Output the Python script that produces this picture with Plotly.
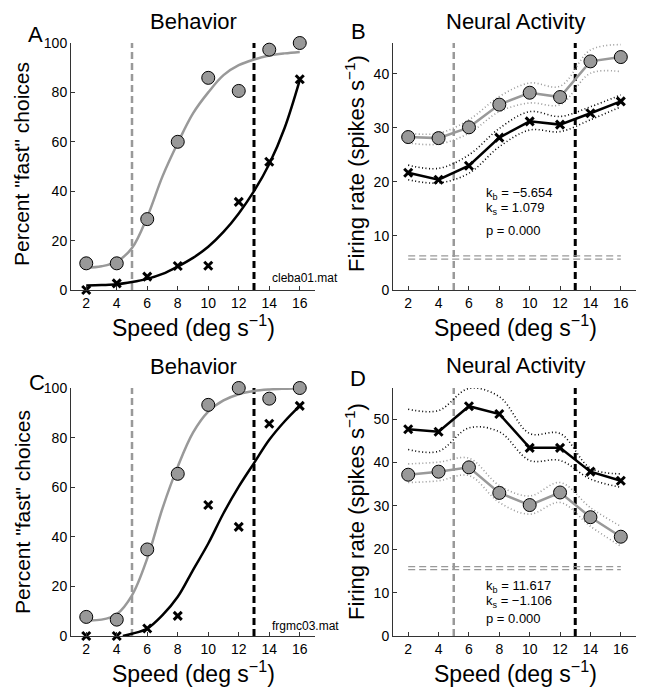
import plotly.graph_objects as go

# ---------------- data ----------------
speeds = [2, 4, 6, 8, 10, 12, 14, 16]
fit_speeds = [2, 3, 4, 5, 6, 7, 8, 9, 10, 11, 12, 13, 14, 15, 16]

# Panel A (cleba01)
A_circ = [10.8, 10.8, 28.7, 60.0, 85.9, 80.6, 97.3, 100]
A_cross = [0, 2.7, 5.4, 9.7, 9.8, 35.7, 51.9, 85.3]
A_fit_gray = [9.0, 9.6, 11.5, 17.0, 29.6, 46.0, 59.5, 71.5, 80.0, 87.0, 91.0, 93.3, 94.9, 95.8, 96.4]
A_fit_black = [1.8, 2.0, 2.3, 3.2, 4.5, 6.5, 9.5, 13.0, 17.5, 23.5, 31.0, 40.0, 51.0, 65.5, 85.0]

# Panel C (frgmc03)
C_circ = [7.7, 6.6, 34.9, 65.4, 93.2, 100, 95.7, 100]
C_cross = [0, 0, 3.0, 8.1, 52.8, 44.0, 85.6, 92.8]
C_fit_gray = [6.3, 6.6, 8.8, 16.4, 31.3, 51.5, 68.3, 82.0, 90.5, 95.0, 97.5, 98.8, 99.4, 99.7, 99.9]
C_fit_black_x = [4.4, 5, 6, 7, 8, 9, 10, 11, 12, 13, 14, 15, 16]
C_fit_black = [0, 0.9, 3.0, 8.4, 15.8, 26.6, 37.3, 49.5, 60.2, 69.7, 79.1, 86.5, 92.8]

# Panel B
B_circ = [28.3, 28.1, 30.1, 34.3, 36.5, 35.7, 42.3, 43.1]
B_circ_hi = [29.0, 29.0, 31.5, 35.8, 38.3, 37.7, 44.4, 45.4]
B_circ_lo = [27.2, 27.0, 29.0, 33.0, 34.6, 34.3, 40.1, 40.4]
B_cross = [21.7, 20.4, 23.0, 28.2, 31.2, 30.6, 32.7, 34.9]
B_cross_hi = [23.1, 22.5, 25.0, 29.9, 33.0, 32.1, 33.9, 36.1]
B_cross_lo = [20.4, 19.8, 21.6, 26.5, 29.6, 29.3, 31.5, 33.9]
B_base = [5.7, 6.3]

# Panel D
D_circ = [37.2, 37.9, 38.9, 33.0, 30.2, 33.1, 27.4, 22.9]
D_circ_hi = [39.7, 40.1, 41.0, 34.7, 32.3, 35.4, 29.6, 25.3]
D_circ_lo = [35.4, 35.8, 37.0, 30.8, 28.1, 30.8, 25.3, 20.7]
D_cross = [47.7, 47.1, 53.0, 51.2, 43.4, 43.4, 37.9, 35.8]
D_cross_hi = [52.3, 52.0, 57.1, 55.2, 46.7, 46.7, 38.7, 37.4]
D_cross_lo = [43.0, 42.6, 48.0, 47.1, 40.5, 40.5, 36.2, 34.3]
D_base = [15.3, 16.0]

bounds_gray = 5
bounds_black = 13

x_ticks = [2, 4, 6, 8, 10, 12, 14, 16]
A_yticks = [0, 20, 40, 60, 80, 100]
B_yticks = [0, 10, 20, 30, 40]
D_yticks = [0, 10, 20, 30, 40, 50]

stats_B = ["k<sub>b</sub> = \u22125.654", "k<sub>s</sub> = 1.079", "p = 0.000"]
stats_D = ["k<sub>b</sub> = 11.617", "k<sub>s</sub> = \u22121.106", "p = 0.000"]

# ---------------- style ----------------
W, H = 647, 698
GRAY = "#999999"
FONT = "Liberation Sans, Arial, Helvetica, sans-serif"
AXC = "#333333"

def px(x):
    return x / W

def py(y):
    return 1 - y / H

fig = go.Figure()

def add(trace, ax):
    xa = "x" if ax == 1 else f"x{ax}"
    ya = "y" if ax == 1 else f"y{ax}"
    trace.update(xaxis=xa, yaxis=ya, showlegend=False, hoverinfo="skip")
    fig.add_trace(trace)

def vlines(ax, ytop):
    add(go.Scatter(x=[bounds_gray, bounds_gray], y=[0, ytop], mode="lines",
                   line=dict(color=GRAY, width=2.5, dash="7px,4px")), ax)
    add(go.Scatter(x=[bounds_black, bounds_black], y=[0, ytop], mode="lines",
                   line=dict(color="black", width=3, dash="7px,4px")), ax)

def behavior(ax, circ, cross, fg, fbx, fb):
    vlines(ax, 100)
    add(go.Scatter(x=fit_speeds, y=fg, mode="lines", line=dict(color=GRAY, width=2.5, shape="spline")), ax)
    add(go.Scatter(x=fbx, y=fb, mode="lines", line=dict(color="black", width=2.5, shape="spline")), ax)
    add(go.Scatter(x=speeds, y=circ, mode="markers", cliponaxis=False,
                   marker=dict(symbol="circle", size=13, color=GRAY, line=dict(color="black", width=1))), ax)
    add(go.Scatter(x=speeds, y=cross, mode="markers", cliponaxis=False,
                   marker=dict(symbol="x-thin", size=8, line=dict(color="black", width=3))), ax)

def neural(ax, ytop, circ, chi, clo, cross, xhi, xlo, base):
    vlines(ax, ytop)
    for b in base:
        add(go.Scatter(x=[speeds[0], speeds[-1]], y=[b, b], mode="lines",
                       line=dict(color=GRAY, width=1.2, dash="7px,4px")), ax)
    for band in (chi, clo):
        add(go.Scatter(x=speeds, y=band, mode="lines",
                       line=dict(color=GRAY, width=1.6, dash="1px,2.5px", shape="spline")), ax)
    for band in (xhi, xlo):
        add(go.Scatter(x=speeds, y=band, mode="lines",
                       line=dict(color="black", width=1.6, dash="1px,2.5px", shape="spline")), ax)
    add(go.Scatter(x=speeds, y=circ, mode="lines+markers", cliponaxis=False,
                   line=dict(color=GRAY, width=2.5),
                   marker=dict(symbol="circle", size=13, color=GRAY, line=dict(color="black", width=1))), ax)
    add(go.Scatter(x=speeds, y=cross, mode="lines+markers", cliponaxis=False,
                   line=dict(color="black", width=2.5),
                   marker=dict(symbol="x-thin", size=8, line=dict(color="black", width=3))), ax)

B_top = 45.7
D_top = 57.2

behavior(1, A_circ, A_cross, A_fit_gray, fit_speeds, A_fit_black)
neural(2, B_top, B_circ, B_circ_hi, B_circ_lo, B_cross, B_cross_hi, B_cross_lo, B_base)
behavior(3, C_circ, C_cross, C_fit_gray, C_fit_black_x, C_fit_black)
neural(4, D_top, D_circ, D_circ_hi, D_circ_lo, D_cross, D_cross_hi, D_cross_lo, D_base)

xdom_L = [px(71), px(315)]
xdom_R = [px(393), px(636)]
ydom_T = [py(290), py(43)]
ydom_B = [py(636), py(388)]

def xax(dom, anchor):
    return dict(domain=dom, anchor=anchor, range=[1, 17], tickvals=x_ticks, ticks="inside",
                ticklen=4, tickcolor=AXC, showline=True, linecolor=AXC, linewidth=1,
                automargin=False,
                showgrid=False, zeroline=False, tickfont=dict(size=14, color="black", family=FONT))

def yax(dom, anchor, rng, tv):
    return dict(domain=dom, anchor=anchor, range=rng, tickvals=tv, ticks="inside",
                ticklen=4, tickcolor=AXC, showline=True, linecolor=AXC, linewidth=1,
                automargin=False,
                showgrid=False, zeroline=False, tickfont=dict(size=14, color="black", family=FONT))

fig.update_layout(
    template="none",
    width=W, height=H, autosize=False,
    margin=dict(l=0, r=0, t=0, b=0, pad=0, autoexpand=False),
    paper_bgcolor="white", plot_bgcolor="white",
    font=dict(family=FONT, color="black"),
    xaxis=xax(xdom_L, "y"), yaxis=yax(ydom_T, "x", [0, 100], A_yticks),
    xaxis2=xax(xdom_R, "y2"), yaxis2=yax(ydom_T, "x2", [0, B_top], B_yticks),
    xaxis3=xax(xdom_L, "y3"), yaxis3=yax(ydom_B, "x3", [0, 100], A_yticks),
    xaxis4=xax(xdom_R, "y4"), yaxis4=yax(ydom_B, "x4", [0, D_top], D_yticks),
)

ann = []
def txt(x, y, s, size, xanchor="center", yanchor="middle", angle=0):
    ann.append(dict(x=px(x), y=py(y), xref="paper", yref="paper", text=s, showarrow=False,
                    xanchor=xanchor, yanchor=yanchor, textangle=angle,
                    font=dict(size=size, family=FONT, color="black")))

# titles
txt(193, 21, "Behavior", 22)
txt(515, 21, "Neural Activity", 22)
txt(193, 367, "Behavior", 22)
txt(515, 366, "Neural Activity", 22)
# panel letters
txt(35, 34, "A", 22)
txt(358, 31, "B", 22)
txt(37, 382, "C", 22)
txt(358, 378, "D", 22)
# axis titles
xlab = "Speed (deg s<sup>\u22121</sup>)"
txt(193, 326, xlab, 23)
txt(515, 326, xlab, 23)
txt(193, 672, xlab, 23)
txt(515, 672, xlab, 23)
txt(22, 164, 'Percent "fast" choices', 21, angle=-90)
txt(22, 512, 'Percent "fast" choices', 21, angle=-90)
txt(355, 164, "Firing rate (spikes s<sup>\u22121</sup>)", 22, angle=-90)
txt(355, 512, "Firing rate (spikes s<sup>\u22121</sup>)", 22, angle=-90)
# file names
txt(270, 278, "cleba01.mat", 12, xanchor="left")
txt(270, 626, "frgmc03.mat", 12, xanchor="left")
# stats
for s, yy in zip(stats_B, [193, 208, 230]):
    txt(484, yy, s, 13, xanchor="left")
for s, yy in zip(stats_D, [586, 601, 618]):
    txt(484, yy, s, 13, xanchor="left")

fig.update_layout(annotations=ann)
fig.write_html("out.html", config={"responsive": False, "displayModeBar": False})

# remove the default page margin so the figure sits at the window origin
with open("out.html", "r", encoding="utf-8") as f:
    html = f.read()
html = html.replace("<head>", "<head><style>html,body{margin:0;padding:0;overflow:hidden}</style>", 1)
with open("out.html", "w", encoding="utf-8") as f:
    f.write(html)
